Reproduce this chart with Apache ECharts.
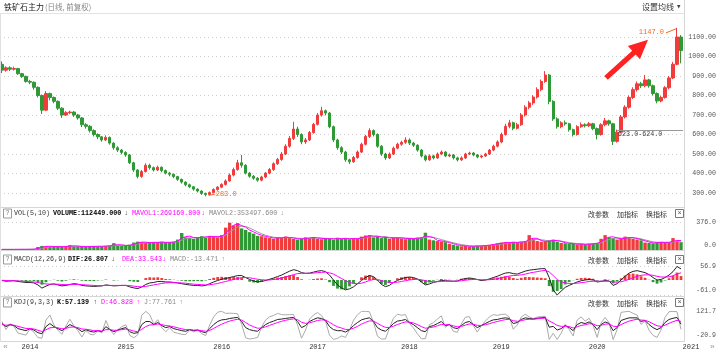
<!DOCTYPE html>
<html>
<head>
<meta charset="utf-8">
<title>铁矿石主力 日线</title>
<script src="https://cdn.jsdelivr.net/npm/echarts@6/dist/echarts.min.js"></script>
<style>
  html, body { margin: 0; padding: 0; background: #fff; }
  #chart { width: 720px; height: 352px; }
</style>
</head>
<body>
<div id="chart"></div>
<script>
// 每根K线约两周: [开, 收, 低, 高]
const ohlc = [
  [960,930,915,975],[930,942,922,950],[942,935,925,950],[935,938,928,948],[938,912,905,942],
  [912,898,890,916],[898,872,866,902],[872,868,858,880],[868,842,830,872],[842,800,790,846],
  [800,725,705,805],[725,810,720,822],[810,790,775,815],[790,770,760,795],[770,735,725,775],
  [735,700,685,740],[700,712,695,720],[712,715,704,722],[715,700,690,720],[700,685,676,706],
  [685,650,638,690],[650,642,630,658],[642,620,610,648],[620,600,590,626],[600,588,576,606],
  [588,572,563,592],[572,585,566,596],[585,556,548,590],[556,532,522,560],[532,520,510,540],
  [520,508,498,526],[508,495,486,514],[495,455,448,500],[455,418,408,460],[418,385,375,422],
  [385,410,378,418],[410,442,405,452],[442,430,420,450],[430,418,410,436],[418,432,412,440],
  [432,415,406,436],[415,402,395,420],[402,396,386,408],[396,384,376,400],[384,370,362,388],
  [370,356,348,374],[356,342,334,360],[342,332,325,348],[332,320,312,336],[320,310,303,324],
  [310,298,290,314],[298,292,283,302],[292,302,288,308],[302,318,298,324],[318,330,312,336],
  [330,344,325,350],[344,362,338,370],[362,392,358,400],[392,420,385,430],[420,455,415,470],
  [455,442,430,495],[442,402,395,448],[402,386,378,408],[386,376,368,392],[376,366,358,382],
  [366,382,360,388],[382,402,376,408],[402,420,396,428],[420,450,414,458],[450,472,444,480],
  [472,500,465,510],[500,540,494,550],[540,580,532,592],[580,628,572,665],[628,600,588,640],
  [600,562,550,606],[562,572,552,582],[572,610,566,618],[610,652,604,660],[652,700,646,710],
  [700,722,692,742],[722,710,698,728],[710,640,632,716],[640,572,562,646],[572,532,522,578],
  [532,510,500,540],[510,470,460,516],[470,460,448,476],[460,482,455,490],[482,510,476,518],
  [510,550,505,558],[550,590,544,598],[590,620,582,632],[620,600,590,626],[600,540,532,606],
  [540,500,490,546],[500,480,470,506],[480,500,474,508],[500,530,494,538],[530,550,524,558],
  [550,560,542,568],[560,572,552,586],[572,556,546,580],[556,545,536,562],[545,520,512,550],
  [520,490,482,526],[490,470,462,496],[470,490,465,498],[490,480,472,496],[480,500,475,508],
  [500,510,494,518],[510,490,484,515],[490,495,484,502],[495,480,472,500],[480,470,462,486],
  [470,480,464,488],[480,500,474,506],[500,505,494,512],[505,495,488,510],[495,485,478,500],
  [485,490,478,496],[490,500,484,506],[500,520,494,526],[520,540,514,548],[540,562,534,570],
  [562,600,555,610],[600,642,594,655],[642,660,632,675],[660,632,622,666],[632,650,626,660],
  [650,700,644,710],[700,740,692,750],[740,762,730,772],[762,792,752,802],[792,830,784,842],
  [830,872,822,882],[872,905,865,925],[905,770,755,910],[770,680,670,776],[680,640,630,688],
  [640,660,632,668],[660,655,645,672],[655,625,615,660],[625,600,590,630],[600,640,594,648],
  [640,650,634,662],[650,645,636,658],[645,655,638,664],[655,630,622,660],[630,600,575,636],
  [600,650,594,658],[650,670,642,685],[670,655,645,676],[655,565,546,660],[565,612,558,625],
  [612,690,606,700],[690,740,682,750],[740,790,732,800],[790,830,782,842],[830,860,820,872],
  [860,850,838,870],[850,880,842,905],[880,850,840,886],[850,810,800,856],[810,772,760,816],
  [772,790,765,798],[790,840,784,848],[840,890,832,900],[890,960,884,972],[960,1100,955,1147],
  [1100,1030,965,1110]
];

const vol = [
  8,7,9,8,10,9,10,12,12,40, 55,50,45,42,48,44,50,66,48,45,
  44,46,50,48,52,50,55,60,92,58, 56,62,70,100,112,105,98,95,108,100,
  110,96,104,112,140,228,170,160,150,175, 185,165,190,180,170,200,300,367,330,360,
  290,270,240,220,190,185,170,160,150,175, 165,180,160,150,140,155,170,160,175,150,
  145,160,150,140,165,150,155,145,160,150, 180,195,200,170,185,160,175,150,165,170,
  155,145,160,150,165,170,232,140,130,120, 115,105,80,70,60,50,55,45,50,60,
  55,65,70,80,90,100,105,95,110,100, 110,120,200,150,120,110,115,130,140,110,
  95,90,80,85,75,80,70,85,90,95, 150,200,170,160,140,150,180,170,150,140,
  130,100,95,90,105,110,95,100,160,120, 105
];
const mavol1 = [
  8,8,8,8,9,9,9,10,11,21, 36,48,50,46,45,45,47,53,55,53,
  46,45,47,48,50,50,52,55,69,70, 69,59,63,77,94,106,105,99,100,101,
  106,102,103,105,119,161,179,186,167,162, 170,175,180,180,178,183,223,289,332,352,
  327,307,267,243,217,198,182,172,160,162, 163,173,168,163,150,148,155,162,168,162,
  157,152,152,150,152,152,157,150,153,152, 162,175,192,188,185,172,173,162,163,162,
  163,157,153,152,158,162,189,181,167,130, 122,113,100,85,70,60,55,50,50,52,
  55,60,63,72,81,90,98,100,103,102, 107,110,143,157,157,127,115,118,128,127,
  115,98,88,85,80,80,75,78,82,90, 112,148,173,177,163,150,157,167,167,153,
  140,123,108,95,97,102,103,102,118,127, 128
];
const mavol2 = [
  8,8,8,8,8,9,9,9,10,15, 25,34,41,46,48,47,46,48,50,50,
  49,48,48,48,48,48,50,52,59,63, 64,63,64,70,80,90,98,100,102,103,
  104,102,102,103,110,131,150,162,164,166, 168,172,175,178,178,180,200,240,275,310,
  320,315,295,270,242,218,197,183,172,166, 164,166,165,163,159,156,155,157,161,162,
  160,156,154,152,151,151,153,152,152,152, 156,164,174,180,184,180,177,170,166,164,
  163,160,157,155,156,158,170,175,170,155, 140,125,110,97,84,73,65,58,54,53,
  54,56,59,64,71,78,86,93,98,100, 104,108,122,134,142,138,130,124,124,124,
  120,110,100,92,86,83,80,79,80,84, 98,120,140,155,162,160,158,160,163,160,
  150,136,122,110,104,102,102,102,108,115, 120
];

const dif = [
  -2,-5,-4,-3,-6,-8,-10,-10,-12,-20, -33,-25,-18,-16,-20,-24,-22,-18,-15,-17,
  -22,-24,-25,-26,-25,-24,-20,-22,-24,-23, -22,-22,-28,-32,-35,-28,-18,-12,-10,-6,
  -6,-8,-8,-10,-12,-15,-18,-20,-22,-22, -24,-22,-15,-8,-2,3,6,10,14,18,
  18,10,2,-4,-8,-6,-2,3,8,14, 20,28,36,42,38,30,27,28,32,36,
  38,34,20,0,-20,-32,-40,-36,-28,-15, -2,10,18,14,0,-18,-27,-22,-10,-2,
  5,10,12,10,4,-8,-20,-16,-10,-6, -2,-3,-4,-5,-4,2,6,8,6,2,
  -2,0,4,10,15,22,28,30,26,24, 30,36,40,42,44,46,46,10,-40,-61,
  -45,-30,-22,-15,-8,-3,0,2,0,-8, -6,-2,-4,-22,-15,0,15,28,35,38,
  34,30,22,10,0,2,10,20,34,55, 45
];
const dea = [
  -1,-2,-3,-3,-4,-5,-6,-7,-8,-10, -14,-16,-17,-17,-17,-18,-19,-19,-18,-18,
  -19,-20,-21,-22,-23,-23,-22,-22,-22,-22, -22,-22,-23,-25,-27,-28,-26,-23,-20,-17,
  -14,-12,-11,-11,-11,-12,-13,-15,-17,-18, -19,-20,-19,-17,-14,-10,-6,-2,2,6,
  10,10,9,6,3,1,0,0,2,4, 8,12,17,22,26,27,27,27,28,30,
  31,32,29,24,15,6,-3,-10,-14,-15, -13,-8,-2,2,2,-2,-7,-10,-10,-9,
  -6,-3,0,2,3,1,-3,-6,-7,-7, -6,-5,-5,-5,-5,-3,-1,1,2,2,
  1,1,1,3,5,9,13,16,18,19, 21,24,28,31,34,37,39,33,18,2,
  -8,-12,-14,-14,-13,-11,-9,-6,-5,-5, -5,-5,-5,-8,-9,-7,-3,3,9,15,
  19,21,21,19,15,12,12,13,17,25, 29
];
const macdBar = [
  -1,-3,-1,0,-2,-3,-4,-3,-4,-10, -19,-9,-1,1,-3,-6,-3,1,3,1,
  -3,-4,-4,-4,-2,-1,2,0,-2,-1, 0,0,-5,-7,-8,0,8,11,10,11,
  8,4,3,1,-1,-3,-5,-5,-5,-4, -5,-2,4,9,12,13,12,12,12,12,
  8,0,-7,-10,-11,-7,-2,3,6,10, 12,16,19,20,12,3,0,1,4,6,
  7,2,-9,-24,-35,-38,-37,-26,-14,0, 11,18,20,12,-2,-16,-20,-12,0,7,
  11,13,12,8,1,-9,-17,-10,-3,1, 4,2,1,0,1,5,7,7,4,0,
  -3,-1,3,7,10,13,15,14,8,5, 9,12,12,11,10,9,7,-25,-48,-45,
  -37,-18,-8,-1,5,8,9,8,5,-3, -1,3,1,-14,-6,7,18,25,26,23,
  15,9,1,-9,-15,-10,-2,7,17,30, 16
];

const kLine = [
  60,45,55,50,35,30,25,35,28,15, 10,45,60,45,35,25,40,55,45,35,
  20,30,22,18,25,20,45,30,20,28, 35,40,20,12,15,55,70,70,55,65,
  50,40,45,35,30,25,22,30,25,28, 20,15,35,55,70,78,80,85,88,90,
  70,40,30,25,22,40,55,65,72,80, 82,85,88,90,70,40,50,70,80,88,
  85,75,45,30,25,25,18,30,50,65, 78,84,88,70,40,28,22,40,60,72,
  75,80,65,55,40,25,20,45,50,60, 70,50,55,40,35,50,65,70,55,40,
  50,60,70,78,80,85,88,85,60,65, 80,88,85,82,86,88,90,42,46,28,
  35,50,40,25,55,65,60,68,55,30, 55,68,60,25,40,75,82,88,88,88,
  70,75,55,40,30,40,65,80,86,90, 57
];
const dLine = [
  55,52,53,52,46,41,36,36,33,27, 21,29,39,41,39,34,36,42,43,40,
  33,32,29,25,25,23,30,30,27,27, 30,33,29,23,20,32,45,53,54,58,
  55,50,48,44,39,34,30,30,28,28, 25,22,26,36,47,57,65,72,77,81,
  77,65,53,44,37,38,44,51,58,65, 71,76,80,83,79,66,61,64,69,75,
  78,77,66,54,44,38,31,31,37,46, 57,66,73,72,61,50,41,41,47,55,
  62,68,67,63,55,45,37,40,43,49, 56,54,54,49,44,46,52,58,57,51,
  51,54,59,65,70,75,79,81,74,71, 74,79,81,81,83,85,87,72,63,51,
  46,47,45,38,44,51,54,59,58,49, 51,57,58,47,45,55,64,72,77,81,
  77,76,69,59,49,46,52,61,69,76, 70
];
const jLine = [
  70,31,59,46,13,8,3,33,18,-9, -12,77,102,53,27,7,48,81,49,25,
  -6,26,8,4,25,14,75,30,6,30, 45,54,2,-10,5,101,120,104,57,79,
  40,20,39,17,12,7,6,30,19,28, 10,1,53,93,116,120,110,111,110,108,
  56,-10,-16,-13,-8,44,77,93,100,110, 104,103,104,104,52,-12,28,82,102,114,
  99,71,3,-18,-13,-1,-8,28,76,103, 120,120,118,66,-2,-16,-16,38,86,106,
  101,104,61,39,10,-15,-14,55,64,82, 98,42,57,22,17,58,91,94,51,18,
  48,72,92,104,100,105,106,93,32,53, 92,106,93,84,92,94,96,-18,12,-18,
  13,56,30,-1,77,93,72,86,49,-8, 63,90,64,-19,30,115,118,120,110,102,
  56,73,27,2,-8,28,91,118,120,118, 31
];

// 年份刻度 (所在K线序号)
const yearIdx = [7, 31, 55, 79, 102, 125, 149, 170];
const yearText = ['2014', '2015', '2016', '2017', '2018', '2019', '2020', '2021'];
// 副图刻度 [最小, 最大]
const volTicks = [0, 376];
const macdTicks = [-61, 56.9];
const kdjTicks = [-20.9, 121.7];
const gapLevel = 623.5;
const gapStart = 154;

const UP = '#f03c3c';
const DOWN = '#2f9a35';
const MONO = '"Liberation Mono", "DejaVu Sans Mono", monospace';
const CJK = '"Noto Sans CJK SC", sans-serif';

const cats = ohlc.map((d, i) => String(i));
const isUp = i => ohlc[i][1] >= ohlc[i][0];

const chart = echarts.init(document.getElementById('chart'));

function xAx(g, withLabel) {
  const ax = {
    type: 'category', gridIndex: g, data: cats, boundaryGap: true,
    axisLine: { show: false }, axisTick: { show: false }, splitLine: { show: false },
    axisLabel: { show: false }
  };
  if (withLabel) {
    ax.axisLabel = {
      show: true, margin: 4, color: '#333', fontSize: 7, fontFamily: MONO,
      interval: i => yearIdx.indexOf(i) >= 0,
      formatter: (v, i) => {
        const k = yearIdx.indexOf(i);
        if (k < 0) return '';
        return i === cats.length - 1 ? '{e|' + yearText[k] + '}' : yearText[k];
      },
      rich: { e: { padding: [0, 0, 0, 20], color: '#333', fontSize: 7, fontFamily: MONO } }
    };
  }
  return ax;
}

function subY(g, ticks, split) {
  const lo = ticks[0], hi = ticks[1];
  return {
    type: 'value', gridIndex: g, position: 'right', min: lo, max: hi, interval: hi - lo,
    axisLine: { show: false }, axisTick: { show: false },
    splitLine: { show: split, lineStyle: { color: '#cfcfcf', type: [1, 3] } },
    axisLabel: {
      align: 'right', margin: 33, color: '#555', fontSize: 6.6, fontFamily: MONO,
      formatter: v => v === hi ? hi.toFixed(1) : (v === lo ? '{lo|' + lo.toFixed(1) + '}' : ''),
      rich: { lo: { padding: [0, 0, 10, 0], color: '#555', fontSize: 6.6, fontFamily: MONO } }
    }
  };
}

const lineS = (xi, data, color) => ({
  type: 'line', xAxisIndex: xi, yAxisIndex: xi, data: data, symbol: 'none', silent: true,
  lineStyle: { color: color, width: 1 }
});

chart.setOption({
  animation: false,
  grid: [
    { left: 0, right: 37, top: 37, height: 156 },
    { left: 0, right: 37, top: 222, height: 28 },
    { left: 0, right: 37, top: 266, height: 29 },
    { left: 0, right: 37, top: 311, height: 29 }
  ],
  xAxis: [xAx(0), xAx(1), xAx(2), xAx(3, true)],
  yAxis: [
    {
      type: 'value', gridIndex: 0, position: 'right', min: 300, max: 1100, interval: 100,
      axisLine: { show: false }, axisTick: { show: false },
      splitLine: { lineStyle: { color: '#cfcfcf', type: [1, 3] } },
      axisLabel: { align: 'right', margin: 33, color: '#555', fontSize: 6.6, fontFamily: MONO,
        formatter: v => v.toFixed(2) }
    },
    subY(1, volTicks, true),
    subY(2, macdTicks, true),
    subY(3, kdjTicks, false)
  ],
  series: [
    {
      type: 'candlestick', xAxisIndex: 0, yAxisIndex: 0, data: ohlc, barWidth: '70%', clip: false,
      itemStyle: { color: UP, color0: DOWN, borderColor: UP, borderColor0: DOWN, borderWidth: 1 }
    },
    {
      type: 'bar', xAxisIndex: 1, yAxisIndex: 1, data: vol, barWidth: '85%', silent: true,
      itemStyle: { color: p => isUp(p.dataIndex) ? UP : DOWN }
    },
    lineS(1, mavol2, '#999'),
    lineS(1, mavol1, '#ff00ff'),
    {
      type: 'bar', xAxisIndex: 2, yAxisIndex: 2, data: macdBar, barWidth: '70%', silent: true,
      itemStyle: { color: p => p.value >= 0 ? UP : DOWN }
    },
    lineS(2, dif, '#222'),
    lineS(2, dea, '#ff00ff'),
    lineS(3, jLine, '#aaa'),
    lineS(3, kLine, '#222'),
    lineS(3, dLine, '#ff00ff')
  ]
});

// 标注与面板装饰
const g = [];
function T(x, y, s, fill, size, fam, extra) {
  g.push({ type: 'text', silent: true, z: 50,
    style: Object.assign({ x: x, y: y, text: s, fill: fill, fontSize: size, fontFamily: fam,
      align: 'left', verticalAlign: 'middle' }, extra || {}) });
}
function L(x1, y1, x2, y2, stroke, w) {
  g.push({ type: 'line', silent: true, z: 40, shape: { x1: x1, y1: y1, x2: x2, y2: y2 },
    style: { stroke: stroke, lineWidth: w || 1 } });
}
function box(x, y, w, h, stroke) {
  g.push({ type: 'rect', silent: true, z: 45, shape: { x: x, y: y, width: w, height: h },
    style: { fill: '#fff', stroke: stroke, lineWidth: 1 } });
}

// 分隔线
L(0, 13.5, 684, 13.5, '#e3e3e3');
L(0, 207.5, 684, 207.5, '#d6d6d6');
L(0, 250.5, 684, 250.5, '#d6d6d6');
L(0, 296.5, 684, 296.5, '#d6d6d6');
L(0, 341.5, 684, 341.5, '#d6d6d6');
L(684.5, 0, 684.5, 342, '#d6d6d6');
L(0.5, 14, 0.5, 342, '#e0e0e0');

// 标题
T(4, 7, '铁矿石主力', '#222', 8, CJK);
T(45, 7, '(日线, 前复权)', '#888', 7.5, CJK);
T(642, 6.5, '设置均线', '#333', 8, CJK);
T(677, 7, '▼', '#444', 4.5, 'DejaVu Sans');

// 副图标题行
const heads = [
  { y: 213.5, items: [['VOL(5,10)', 14, '#333'], ['VOLUME:112449.000', 53, '#000', 'bold'], ['↓', 124, '#333'],
    ['MAVOL1:269160.800', 132, '#ff00ff'], ['↓', 201, '#ff00ff'], ['MAVOL2:353497.600', 209, '#888'], ['↓', 280, '#888']] },
  { y: 259.5, items: [['MACD(12,26,9)', 14, '#333'], ['DIF:26.807', 68, '#000', 'bold'], ['↓', 111, '#333'],
    ['DEA:33.543', 122, '#ff00ff'], ['↓', 162, '#ff00ff'], ['MACD:-13.471', 170, '#888'], ['↑', 221, '#888']] },
  { y: 302.5, items: [['KDJ(9,3,3)', 14, '#333'], ['K:57.139', 57, '#000', 'bold'], ['↑', 93, '#333'],
    ['D:46.828', 101, '#ff00ff'], ['↑', 136, '#ff00ff'], ['J:77.761', 144, '#888'], ['↑', 179, '#888']] }
];
heads.forEach(h => {
  box(3.5, h.y - 4.5, 8, 9, '#999');
  T(7.5, h.y, '?', '#777', 6.5, MONO, { align: 'center' });
  h.items.forEach(it => T(it[1], h.y, it[0], it[2], 6.7, MONO, it[3] ? { fontWeight: it[3] } : null));
  T(588, h.y + 0.5, '改参数', '#333', 7, CJK);
  T(617, h.y + 0.5, '加指标', '#333', 7, CJK);
  T(646, h.y + 0.5, '换指标', '#333', 7, CJK);
  box(675.5, h.y - 4, 8, 8, '#777');
  T(679.5, h.y, '×', '#555', 7, MONO, { align: 'center' });
});

// 底部翻页符
T(3, 347, '«', '#999', 8, MONO);
T(710, 347, '»', '#999', 8, MONO);

// 最高、最低价标注
let hiI = 0, loI = 0;
ohlc.forEach((d, i) => {
  if (d[3] > ohlc[hiI][3]) hiI = i;
  if (d[2] < ohlc[loI][2]) loI = i;
});
const pk = chart.convertToPixel({ gridIndex: 0 }, [hiI, ohlc[hiI][3]]);
const lw = chart.convertToPixel({ gridIndex: 0 }, [loI, ohlc[loI][2]]);
L(pk[0] - 11, pk[1] + 5, pk[0] - 1, pk[1] + 1, '#f26a1b');
T(pk[0] - 13, pk[1] + 4, ohlc[hiI][3].toFixed(1), '#f26a1b', 7, MONO, { align: 'right' });
L(lw[0] + 3, lw[1] - 1, lw[0] + 9, lw[1] - 2, '#f26a1b');
T(lw[0] + 10, lw[1] - 2, ohlc[loI][2].toFixed(1), '#f26a1b', 7, MONO);

// 缺口线
const gs = chart.convertToPixel({ gridIndex: 0 }, [gapStart, gapLevel]);
L(gs[0], Math.round(gs[1]) + 0.5, 683, Math.round(gs[1]) + 0.5, '#999');
T(gs[0] + 1, gs[1] + 4, '623.0-624.0', '#444', 6.7, MONO);

// 红色箭头 (指向最高价标注下方)
const tip = [pk[0] - 29, pk[1] + 12];
const tail = [tip[0] - 42, tip[1] + 38];
const dx = tip[0] - tail[0], dy = tip[1] - tail[1], len = Math.hypot(dx, dy);
const ux = dx / len, uy = dy / len, nx = -uy, ny = ux;
const hl = 19, hw = 9, sw = 2.6;
const bx = tip[0] - ux * hl, by = tip[1] - uy * hl;
g.push({ type: 'polygon', silent: true, z: 60,
  shape: { points: [
    [tail[0] + nx * sw, tail[1] + ny * sw], [bx + nx * sw, by + ny * sw], [bx + nx * hw, by + ny * hw],
    tip, [bx - nx * hw, by - ny * hw], [bx - nx * sw, by - ny * sw], [tail[0] - nx * sw, tail[1] - ny * sw]
  ] },
  style: { fill: '#f22' } });

chart.setOption({ graphic: g });
</script>
</body>
</html>
